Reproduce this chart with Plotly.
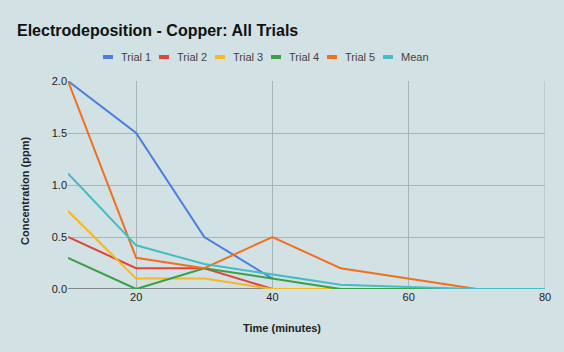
import plotly.graph_objects as go

time = [10, 20, 30, 40, 50, 60, 70, 80]
trial1 = [2.0, 1.5, 0.5, 0.1, None, None, None, None]
trial2 = [0.5, 0.2, 0.2, 0.0, None, None, None, None]
trial3 = [0.75, 0.1, 0.1, 0.0, 0.0, None, None, None]
trial4 = [0.3, 0.0, 0.2, 0.1, 0.0, 0.0, 0.0, None]
trial5 = [2.0, 0.3, 0.2, 0.5, 0.2, 0.1, 0.0, None]
mean = [1.11, 0.42, 0.24, 0.14, 0.04, 0.02, 0.0, 0.0]

names = ["Trial 1", "Trial 2", "Trial 3", "Trial 4", "Trial 5", "Mean"]
values = [trial1, trial2, trial3, trial4, trial5, mean]
colors = ["#4a7fe0", "#e0443a", "#f4b820", "#3aa047", "#f07020", "#46bcc4"]

W, H = 564, 352
L, R, T, B = 68, 19, 81, 63
pw, ph = W - L - R, H - T - B

bg = "#d1e1e4"
grid = "#a7b5b7"
fig = go.Figure()
for name, ys, col in zip(names, values, colors):
    fig.add_trace(go.Scatter(x=time, y=ys, name=name, mode="lines",
                             line=dict(color=col, width=2), showlegend=False))

def px_x(p):
    return (p - L) / pw

def px_y(p):
    return (H - B - p) / ph

# manual compact legend
leg_y = 57
for i, (name, col) in enumerate(zip(names, colors)):
    x0 = 103 + i * 56
    fig.add_shape(type="line", xref="paper", yref="paper",
                  x0=px_x(x0), x1=px_x(x0 + 10), y0=px_y(leg_y), y1=px_y(leg_y),
                  line=dict(color=col, width=4))
    fig.add_annotation(xref="paper", yref="paper", x=px_x(x0 + 16), y=px_y(leg_y),
                       text=name, showarrow=False, xanchor="left", yanchor="middle",
                       font=dict(family="Liberation Sans, Arial", size=11, color="#444444"))

fig.add_annotation(xref="paper", yref="paper", x=px_x(282), y=px_y(328),
                   text="<b>Time (minutes)</b>", showarrow=False,
                   xanchor="center", yanchor="middle",
                   font=dict(family="Liberation Sans, Arial", size=11, color="#222222"))
fig.add_annotation(xref="paper", yref="paper", x=px_x(25), y=px_y(191),
                   text="<b>Concentration (ppm)</b>", showarrow=False, textangle=-90,
                   xanchor="center", yanchor="middle",
                   font=dict(family="Liberation Sans, Arial", size=11, color="#222222"))

fig.update_layout(
    width=W, height=H,
    paper_bgcolor=bg, plot_bgcolor=bg,
    margin=dict(l=L, r=R, t=T, b=B),
    title=dict(text="<b>Electrodeposition - Copper: All Trials</b>", x=17 / W, xanchor="left",
               y=1 - 30 / H, yanchor="middle",
               font=dict(family="Liberation Sans, Arial", size=16, color="#111111")),
    showlegend=False,
    font=dict(family="Liberation Sans, Arial", size=11, color="#222222"),
)
fig.update_xaxes(range=[10, 80], tickvals=[20, 40, 60, 80], showgrid=True,
                 gridcolor=grid, gridwidth=1, zeroline=False, showline=False,
                 ticks="", tickfont=dict(size=11, color="#222222"))
fig.update_yaxes(range=[0, 2.0], tickvals=[0, 0.5, 1.0, 1.5, 2.0], tickformat=".1f",
                 showgrid=True, gridcolor=grid, gridwidth=1, zeroline=False,
                 showline=False, ticks="", tickfont=dict(size=11, color="#222222"))
fig.add_shape(type="line", xref="paper", yref="y", x0=0, x1=1, y0=0, y1=0,
              line=dict(color="#333333", width=1), layer="below")
fig.add_shape(type="line", xref="x", yref="paper", x0=80, x1=80, y0=0, y1=1,
              line=dict(color=grid, width=1), layer="below")

fig.write_html("out.html")
